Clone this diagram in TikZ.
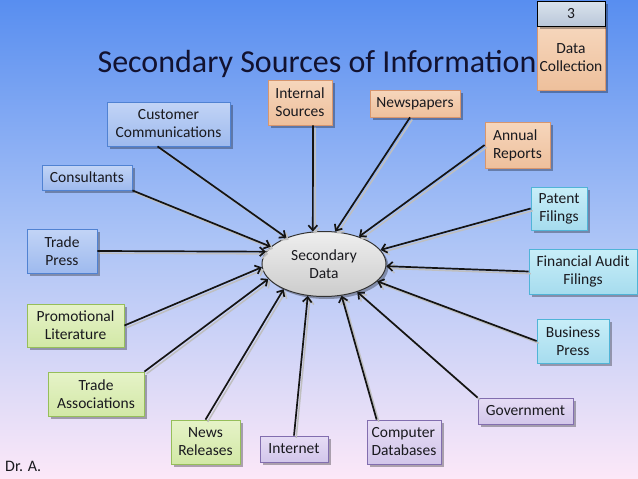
\documentclass[tikz,border=0pt]{standalone}
\usepackage{fontspec}
\setmainfont{Carlito}
\usetikzlibrary{shapes.geometric,shadows,arrows.meta}
\definecolor{bgtop}{RGB}{88,142,240}
\definecolor{bgmid}{RGB}{172,196,246}
\definecolor{bgbot}{RGB}{252,232,248}
\definecolor{txt}{RGB}{25,25,30}
\definecolor{titlec}{RGB}{18,18,48}
\definecolor{bluetop}{RGB}{194,212,246}
\definecolor{bluebot}{RGB}{158,186,238}
\definecolor{bluebd}{RGB}{80,130,210}
\definecolor{ortop}{RGB}{246,214,188}
\definecolor{orbot}{RGB}{238,192,156}
\definecolor{orbd}{RGB}{215,150,110}
\definecolor{cytop}{RGB}{200,238,248}
\definecolor{cybot}{RGB}{166,220,238}
\definecolor{cybd}{RGB}{80,180,215}
\definecolor{grtop}{RGB}{230,243,200}
\definecolor{grbot}{RGB}{210,232,166}
\definecolor{grbd}{RGB}{150,190,90}
\definecolor{putop}{RGB}{230,220,245}
\definecolor{pubot}{RGB}{210,198,234}
\definecolor{pubd}{RGB}{130,110,175}
\definecolor{numtop}{RGB}{218,226,236}
\definecolor{numbot}{RGB}{186,200,218}
\definecolor{elltop}{RGB}{238,238,238}
\definecolor{ellbot}{RGB}{204,204,204}
\newcommand\myconn[2]{\draw[shline] #1 -- #2; \draw[conn] #1 -- #2;}
\begin{document}
\begin{tikzpicture}[x=1pt,y=-1pt,
  box/.style={draw, line width=0.8pt, inner sep=0pt, align=center, text=txt,
    font=\fontsize{15.5}{18}\selectfont,
    drop shadow={shadow xshift=2.5pt, shadow yshift=-2.5pt, fill=black, opacity=0.3}},
  bluebox/.style={box, draw=bluebd, top color=bluetop, bottom color=bluebot},
  orbox/.style={box, draw=orbd, top color=ortop, bottom color=orbot},
  cybox/.style={box, draw=cybd, top color=cytop, bottom color=cybot},
  grbox/.style={box, draw=grbd, top color=grtop, bottom color=grbot},
  pubox/.style={box, draw=pubd, top color=putop, bottom color=pubot},
  conn/.style={line width=1.7pt, draw=black!92, -{Straight Barb[length=5pt,width=9pt]}},
  shline/.style={line width=1.5pt, draw=gray!50, -{Straight Barb[length=5pt,width=9pt]},
    transform canvas={xshift=2.2pt,yshift=-2.2pt}}
]
\useasboundingbox (0,0) rectangle (638,479);
\shade[top color=bgtop, bottom color=bgbot, middle color=bgmid] (0,0) rectangle (638,479);

\node[font=\fontsize{32}{36}\selectfont, text=titlec, inner sep=0pt] (title) at (317,64) {Secondary Sources of Information};

\node[orbox, minimum width=68pt, minimum height=64pt] (dc) at (571,58) {Data\\Collection};
\node[box, draw=black, line width=1pt, top color=numtop, bottom color=numbot, minimum width=68pt, minimum height=25pt] (num) at (571,13.5) {3};

\node[draw=black!80, line width=1pt, ellipse, minimum width=124pt, minimum height=65pt,
  top color=elltop, bottom color=ellbot, align=center, text=txt, font=\fontsize{15.5}{18}\selectfont,
  drop shadow={shadow xshift=2.5pt, shadow yshift=-2.5pt, fill=black, opacity=0.3}] (sd) at (324,264) {Secondary\\Data};

\node[orbox, minimum width=64pt, minimum height=45pt, align=left] (int) at (300,102.5) {Internal\\Sources};
\node[orbox, minimum width=90pt, minimum height=27pt] (news) at (415,103.5) {Newspapers};
\node[orbox, minimum width=65pt, minimum height=46pt, align=left] (annual) at (517.5,145) {Annual\\Reports};

\node[bluebox, minimum width=123pt, minimum height=44pt] (cust) at (168.5,124) {Customer\\Communications};
\node[bluebox, minimum width=90pt, minimum height=25pt] (cons) at (87,177.5) {Consultants};
\node[bluebox, minimum width=70pt, minimum height=44pt] (tpress) at (62,251) {Trade\\Press};

\node[cybox, minimum width=56pt, minimum height=43pt] (patent) at (559,208.5) {Patent\\Filings};
\node[cybox, minimum width=108pt, minimum height=45pt] (fin) at (583,271.5) {Financial Audit\\Filings};
\node[cybox, minimum width=72pt, minimum height=44pt] (bpress) at (573,341) {Business\\Press};

\node[grbox, minimum width=97pt, minimum height=43pt] (promo) at (75.5,325.5) {Promotional\\Literature};
\node[grbox, minimum width=96pt, minimum height=44pt] (tassoc) at (96,394) {Trade\\Associations};
\node[grbox, minimum width=69pt, minimum height=44pt] (newsrel) at (205.5,442) {News\\Releases};

\node[pubox, minimum width=68pt, minimum height=26pt] (internet) at (294,449) {Internet};
\node[pubox, minimum width=74pt, minimum height=44pt, align=left] (compdb) at (404,442) {Computer\\Databases};
\node[pubox, minimum width=95pt, minimum height=26pt] (gov) at (525.5,411) {Government};

\node[anchor=west, inner sep=0pt, text=txt, font=\fontsize{16}{18}\selectfont] (dra) at (5,466) {Dr. A.};

\myconn{([xshift=13pt]int.south)}{(sd.109)}
\myconn{([xshift=-5pt]news.south)}{(sd.71)}
\myconn{(annual.west)}{(sd.38)}
\myconn{(patent.west)}{(sd.14)}
\myconn{(fin.west)}{(sd.-2)}
\myconn{(bpress.west)}{(sd.-18)}
\myconn{(gov.north west)}{(sd.-40)}
\myconn{([xshift=10pt]compdb.north west)}{(sd.-61)}
\myconn{(internet.north)}{(sd.-117)}
\myconn{(newsrel.north)}{(sd.212)}
\myconn{(tassoc.north east)}{(sd.195)}
\myconn{(promo.east)}{(sd.183)}
\myconn{(tpress.east)}{(sd.168)}
\myconn{(cons.south east)}{(sd.162)}
\myconn{([xshift=-11pt]cust.south)}{(sd.145)}
\end{tikzpicture}
\end{document}
